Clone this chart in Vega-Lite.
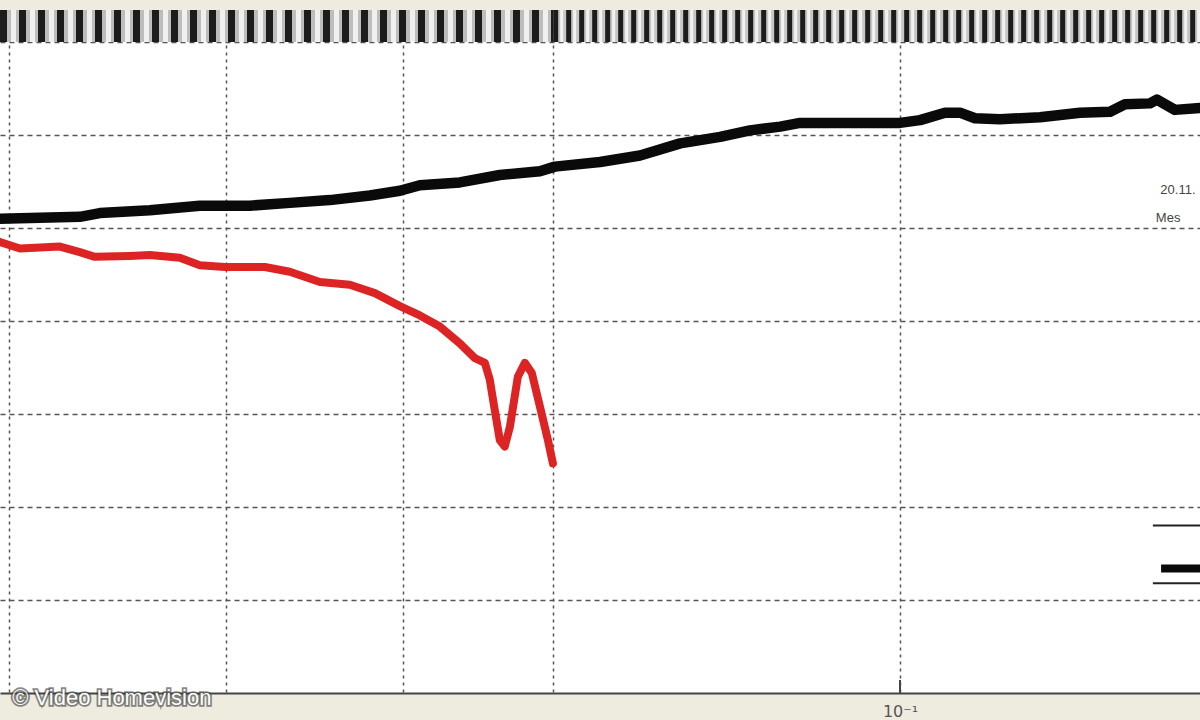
{
  "$schema": "https://vega.github.io/schema/vega-lite/v6.json",
  "width": 1200,
  "height": 683,
  "autosize": {"type": "none"},
  "padding": {"top": 10, "left": 0, "right": 0, "bottom": 27},
  "background": "#edecdf",
  "config": {
    "view": {"stroke": null, "fill": "#ffffff"},
    "font": "Liberation Sans"
  },
  "datasets": {
    "curves": [
      {"f": 0.03963, "level": 5.10, "series": "Kurve 1"},
      {"f": 0.04302, "level": 5.12, "series": "Kurve 1"},
      {"f": 0.04392, "level": 5.16, "series": "Kurve 1"},
      {"f": 0.04623, "level": 5.19, "series": "Kurve 1"},
      {"f": 0.04867, "level": 5.24, "series": "Kurve 1"},
      {"f": 0.05124, "level": 5.24, "series": "Kurve 1"},
      {"f": 0.05339, "level": 5.27, "series": "Kurve 1"},
      {"f": 0.05563, "level": 5.30, "series": "Kurve 1"},
      {"f": 0.05797, "level": 5.35, "series": "Kurve 1"},
      {"f": 0.05979, "level": 5.40, "series": "Kurve 1"},
      {"f": 0.06103, "level": 5.46, "series": "Kurve 1"},
      {"f": 0.06359, "level": 5.49, "series": "Kurve 1"},
      {"f": 0.06626, "level": 5.57, "series": "Kurve 1"},
      {"f": 0.06905, "level": 5.61, "series": "Kurve 1"},
      {"f": 0.07012, "level": 5.66, "series": "Kurve 1"},
      {"f": 0.07345, "level": 5.71, "series": "Kurve 1"},
      {"f": 0.07654, "level": 5.78, "series": "Kurve 1"},
      {"f": 0.07977, "level": 5.91, "series": "Kurve 1"},
      {"f": 0.08311, "level": 5.98, "series": "Kurve 1"},
      {"f": 0.08570, "level": 6.05, "series": "Kurve 1"},
      {"f": 0.08841, "level": 6.09, "series": "Kurve 1"},
      {"f": 0.09023, "level": 6.13, "series": "Kurve 1"},
      {"f": 0.10000, "level": 6.13, "series": "Kurve 1"},
      {"f": 0.10208, "level": 6.16, "series": "Kurve 1"},
      {"f": 0.10474, "level": 6.24, "series": "Kurve 1"},
      {"f": 0.10636, "level": 6.24, "series": "Kurve 1"},
      {"f": 0.10801, "level": 6.18, "series": "Kurve 1"},
      {"f": 0.11082, "level": 6.17, "series": "Kurve 1"},
      {"f": 0.11549, "level": 6.19, "series": "Kurve 1"},
      {"f": 0.12032, "level": 6.24, "series": "Kurve 1"},
      {"f": 0.12411, "level": 6.25, "series": "Kurve 1"},
      {"f": 0.12603, "level": 6.33, "series": "Kurve 1"},
      {"f": 0.12931, "level": 6.34, "series": "Kurve 1"},
      {"f": 0.13024, "level": 6.38, "series": "Kurve 1"},
      {"f": 0.13267, "level": 6.27, "series": "Kurve 1"},
      {"f": 0.13614, "level": 6.29, "series": "Kurve 1"},
      {"f": 0.03963, "level": 4.85, "series": "Kurve 2"},
      {"f": 0.04045, "level": 4.78, "series": "Kurve 2"},
      {"f": 0.04215, "level": 4.80, "series": "Kurve 2"},
      {"f": 0.04302, "level": 4.74, "series": "Kurve 2"},
      {"f": 0.04369, "level": 4.69, "series": "Kurve 2"},
      {"f": 0.04529, "level": 4.70, "series": "Kurve 2"},
      {"f": 0.04623, "level": 4.71, "series": "Kurve 2"},
      {"f": 0.04768, "level": 4.68, "series": "Kurve 2"},
      {"f": 0.04867, "level": 4.60, "series": "Kurve 2"},
      {"f": 0.04994, "level": 4.58, "series": "Kurve 2"},
      {"f": 0.05204, "level": 4.58, "series": "Kurve 2"},
      {"f": 0.05339, "level": 4.53, "series": "Kurve 2"},
      {"f": 0.05507, "level": 4.42, "series": "Kurve 2"},
      {"f": 0.05679, "level": 4.39, "series": "Kurve 2"},
      {"f": 0.05827, "level": 4.30, "series": "Kurve 2"},
      {"f": 0.05979, "level": 4.16, "series": "Kurve 2"},
      {"f": 0.06103, "level": 4.06, "series": "Kurve 2"},
      {"f": 0.06230, "level": 3.94, "series": "Kurve 2"},
      {"f": 0.06359, "level": 3.76, "series": "Kurve 2"},
      {"f": 0.06458, "level": 3.60, "series": "Kurve 2"},
      {"f": 0.06525, "level": 3.55, "series": "Kurve 2"},
      {"f": 0.06558, "level": 3.37, "series": "Kurve 2"},
      {"f": 0.06592, "level": 3.04, "series": "Kurve 2"},
      {"f": 0.06626, "level": 2.72, "series": "Kurve 2"},
      {"f": 0.06660, "level": 2.65, "series": "Kurve 2"},
      {"f": 0.06695, "level": 2.86, "series": "Kurve 2"},
      {"f": 0.06750, "level": 3.40, "series": "Kurve 2"},
      {"f": 0.06799, "level": 3.55, "series": "Kurve 2"},
      {"f": 0.06848, "level": 3.44, "series": "Kurve 2"},
      {"f": 0.06905, "level": 3.08, "series": "Kurve 2"},
      {"f": 0.06962, "level": 2.72, "series": "Kurve 2"},
      {"f": 0.06998, "level": 2.47, "series": "Kurve 2"}
    ],
    "bandLeft": [
      {"f1": 0.03963, "f2": 0.07, "level": 7.172}
    ],
    "bandRight": [
      {"f1": 0.07, "f2": 0.13614, "level": 7.172}
    ],
    "axistick": [
      {"f": 0.1, "y1": 0, "y2": 0.14}
    ],
    "legendbox": [
      {"f1": 0.1297, "f2": 0.13614, "level": 1.80},
      {"f1": 0.1297, "f2": 0.13614, "level": 1.18}
    ],
    "legendline": [
      {"f1": 0.1308, "f2": 0.13614, "level": 1.34}
    ],
    "notes": [
      {"f": 0.1307, "level": 5.41, "label": "20.11."},
      {"f": 0.1301, "level": 5.11, "label": "Mes"}
    ],
    "credit": [
      {"f": 0.04013, "level": -0.054, "label": "© Video Homevision"}
    ]
  },
  "layer": [
    {
      "data": {"name": "curves"},
      "mark": {"type": "line", "strokeJoin": "round", "strokeCap": "round"},
      "encoding": {
        "x": {
          "field": "f", "type": "quantitative",
          "scale": {"type": "log", "domain": [0.03963, 0.13614], "nice": false},
          "axis": {
            "title": null,
            "values": [0.04, 0.05, 0.06, 0.07, 0.1],
            "labelExpr": "datum.value == 0.1 ? '10⁻¹' : ''",
            "ticks": false,
            "labelPadding": 10,
            "labelFontSize": 16,
            "labelColor": "#555555",
            "labelFont": "DejaVu Sans",
            "domainColor": "#444444",
            "domainWidth": 2,
            "grid": true,
            "gridColor": "#555555",
            "gridWidth": 1.5,
            "gridDash": [3, 4]
          }
        },
        "y": {
          "field": "level", "type": "quantitative",
          "scale": {"domain": [0, 7.344], "nice": false, "zero": false},
          "axis": {
            "title": null,
            "values": [1, 2, 3, 4, 5, 6, 7],
            "labels": false,
            "ticks": false,
            "domain": false,
            "grid": true,
            "gridColor": "#555555",
            "gridWidth": 1.5,
            "gridDash": [5, 4]
          }
        },
        "color": {
          "field": "series", "type": "nominal",
          "scale": {"domain": ["Kurve 1", "Kurve 2"], "range": ["#0a0a0a", "#dd2424"]},
          "legend": null
        },
        "strokeWidth": {
          "field": "series", "type": "nominal",
          "scale": {"domain": ["Kurve 1", "Kurve 2"], "range": [10.5, 8]},
          "legend": null
        }
      }
    },
    {
      "data": {"name": "bandLeft"},
      "mark": {"type": "rule", "color": "#bdbdbd", "strokeWidth": 32},
      "encoding": {"x": {"field": "f1", "type": "quantitative"}, "x2": {"field": "f2"}, "y": {"field": "level", "type": "quantitative"}}
    },
    {
      "data": {"name": "bandLeft"},
      "mark": {"type": "rule", "color": "#1c1c1c", "strokeWidth": 32, "strokeDash": [7, 12]},
      "encoding": {"x": {"field": "f1", "type": "quantitative"}, "x2": {"field": "f2"}, "y": {"field": "level", "type": "quantitative"}}
    },
    {
      "data": {"name": "bandLeft"},
      "mark": {"type": "rule", "color": "#f0f0f0", "strokeWidth": 32, "strokeDash": [5, 14], "strokeDashOffset": -11},
      "encoding": {"x": {"field": "f1", "type": "quantitative"}, "x2": {"field": "f2"}, "y": {"field": "level", "type": "quantitative"}}
    },
    {
      "data": {"name": "bandRight"},
      "mark": {"type": "rule", "color": "#c6c6c6", "strokeWidth": 32},
      "encoding": {"x": {"field": "f1", "type": "quantitative"}, "x2": {"field": "f2"}, "y": {"field": "level", "type": "quantitative"}}
    },
    {
      "data": {"name": "bandRight"},
      "mark": {"type": "rule", "color": "#1c1c1c", "strokeWidth": 32, "strokeDash": [5, 8]},
      "encoding": {"x": {"field": "f1", "type": "quantitative"}, "x2": {"field": "f2"}, "y": {"field": "level", "type": "quantitative"}}
    },
    {
      "data": {"name": "bandRight"},
      "mark": {"type": "rule", "color": "#f2f2f2", "strokeWidth": 32, "strokeDash": [3, 10], "strokeDashOffset": -7},
      "encoding": {"x": {"field": "f1", "type": "quantitative"}, "x2": {"field": "f2"}, "y": {"field": "level", "type": "quantitative"}}
    },
    {
      "data": {"name": "axistick"},
      "mark": {"type": "rule", "color": "#444444", "strokeWidth": 2},
      "encoding": {
        "x": {"field": "f", "type": "quantitative"},
        "y": {"field": "y1", "type": "quantitative"},
        "y2": {"field": "y2"}
      }
    },
    {
      "data": {"name": "legendbox"},
      "mark": {"type": "rule", "color": "#222222", "strokeWidth": 2},
      "encoding": {
        "x": {"field": "f1", "type": "quantitative"},
        "x2": {"field": "f2"},
        "y": {"field": "level", "type": "quantitative"}
      }
    },
    {
      "data": {"name": "legendline"},
      "mark": {"type": "rule", "color": "#0a0a0a", "strokeWidth": 8},
      "encoding": {
        "x": {"field": "f1", "type": "quantitative"},
        "x2": {"field": "f2"},
        "y": {"field": "level", "type": "quantitative"}
      }
    },
    {
      "data": {"name": "notes"},
      "mark": {"type": "text", "align": "left", "baseline": "middle", "fontSize": 13, "color": "#444444"},
      "encoding": {
        "x": {"field": "f", "type": "quantitative"},
        "y": {"field": "level", "type": "quantitative"},
        "text": {"field": "label"}
      }
    },
    {
      "data": {"name": "credit"},
      "mark": {"type": "text", "align": "left", "baseline": "middle", "fontSize": 22, "font": "Liberation Sans", "fill": "#3a3a3a", "stroke": "#3a3a3a", "strokeWidth": 3.5, "strokeOpacity": 0.75, "opacity": 0.8},
      "encoding": {
        "x": {"field": "f", "type": "quantitative"},
        "y": {"field": "level", "type": "quantitative"},
        "text": {"field": "label"}
      }
    },
    {
      "data": {"name": "credit"},
      "mark": {"type": "text", "align": "left", "baseline": "middle", "fontSize": 22, "font": "Liberation Sans", "color": "#ffffff"},
      "encoding": {
        "x": {"field": "f", "type": "quantitative"},
        "y": {"field": "level", "type": "quantitative"},
        "text": {"field": "label"}
      }
    }
  ]
}
